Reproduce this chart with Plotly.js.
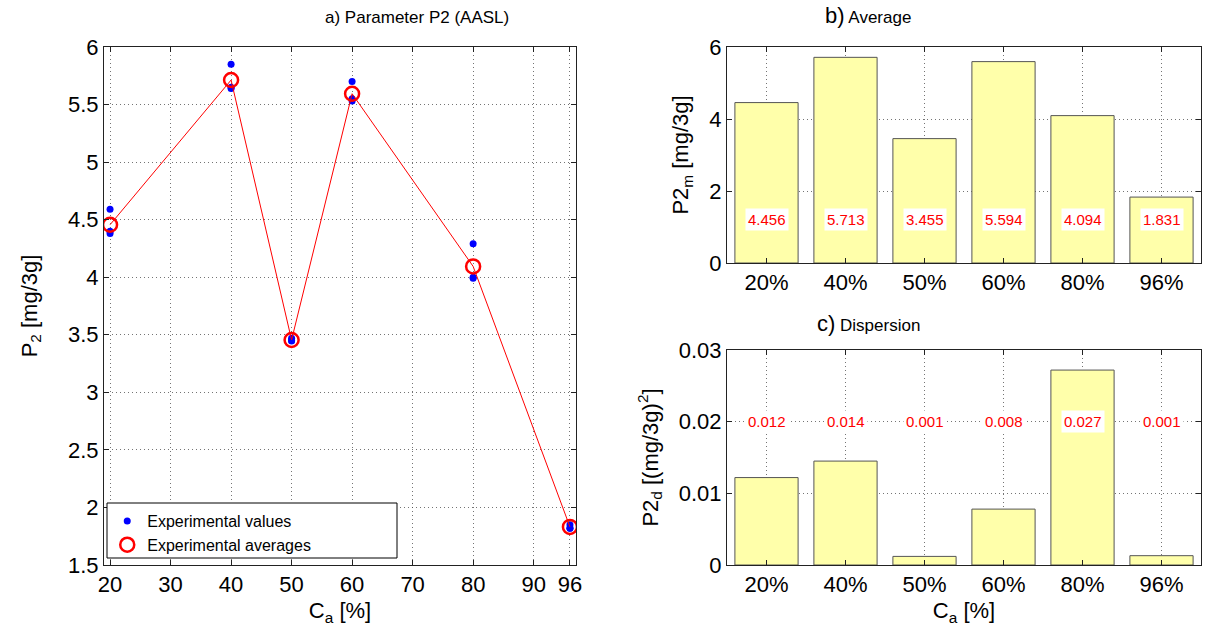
<!DOCTYPE html>
<html>
<head>
<meta charset="utf-8">
<script src="https://cdn.plot.ly/plotly-3.0.1.min.js"></script>
<style>html,body{margin:0;padding:0;background:#fff;}#chart{width:1205px;height:636px;}</style>
</head>
<body>
<div id="chart"></div>
<script>
// ---- data ----
const concentrations = [20, 40, 50, 60, 80, 96];
const expX = [20, 20, 20, 40, 40, 40, 50, 50, 50, 60, 60, 60, 80, 80, 80, 96, 96, 96];
const expY = [4.59, 4.40, 4.38, 5.85, 5.65, 5.64, 3.47, 3.45, 3.445, 5.70, 5.55, 5.53, 4.29, 4.00, 3.99, 1.85, 1.82, 1.82];
const averages = [4.456, 5.713, 3.455, 5.594, 4.094, 1.831];
const categories = ['20%', '40%', '50%', '60%', '80%', '96%'];
const dispersion = [0.0122, 0.0145, 0.0012, 0.0078, 0.0272, 0.0013];
const avgLabels = ['4.456', '5.713', '3.455', '5.594', '4.094', '1.831'];
const dispLabels = ['0.012', '0.014', '0.001', '0.008', '0.027', '0.001'];
const xTicks = [20, 30, 40, 50, 60, 70, 80, 90, 96];

const FONT = 'Arial, "Liberation Sans", sans-serif';
const gridCol = 'rgba(70,70,70,0.75)';

function axisStyle(extra) {
  return Object.assign({
    showline: true, linecolor: '#222', linewidth: 1, mirror: 'allticks',
    ticks: 'inside', ticklen: 5, tickcolor: '#222',
    showgrid: true, gridcolor: gridCol, griddash: '1px,3px', gridwidth: 1,
    zeroline: false,
    tickfont: {family: FONT, size: 22, color: '#000'}
  }, extra);
}

const traces = [
  {x: expX, y: expY, type: 'scatter', mode: 'markers', name: 'Experimental values',
   marker: {color: '#0000ff', size: 7}, xaxis: 'x', yaxis: 'y'},
  {x: concentrations, y: averages, type: 'scatter', mode: 'lines', showlegend: false,
   line: {color: '#ff0000', width: 1}, xaxis: 'x', yaxis: 'y', hoverinfo: 'skip'},
  {x: concentrations, y: averages, type: 'scatter', mode: 'markers', name: 'Experimental averages',
   marker: {color: '#ff0000', size: 14, symbol: 'circle-open', line: {color: '#ff0000', width: 2.5}},
   xaxis: 'x', yaxis: 'y'},
  {x: categories, y: averages, type: 'bar', showlegend: false, width: 0.8,
   marker: {color: '#ffffaa', line: {color: '#555', width: 1}}, xaxis: 'x2', yaxis: 'y2'},
  {x: categories, y: dispersion, type: 'bar', showlegend: false, width: 0.8,
   marker: {color: '#ffffaa', line: {color: '#555', width: 1}}, xaxis: 'x3', yaxis: 'y3'}
];

const annotations = [];
categories.forEach((c, i) => {
  annotations.push({x: c, y: 1.2, xref: 'x2', yref: 'y2', text: avgLabels[i], showarrow: false,
    bgcolor: '#ffffff', font: {family: FONT, size: 15, color: '#ff0000'}, borderpad: 2});
  annotations.push({x: c, y: 0.02, xref: 'x3', yref: 'y3', text: dispLabels[i], showarrow: false,
    bgcolor: '#ffffff', font: {family: FONT, size: 15, color: '#ff0000'}, borderpad: 2});
});
// titles
annotations.push({xref: 'paper', yref: 'paper', x: 323/1205, y: 1 - 18/636, yanchor: 'middle',
  text: 'a) Parameter P2 (AASL)', showarrow: false, font: {family: FONT, size: 17, color: '#000'}});
annotations.push({xref: 'paper', yref: 'paper', x: 913/1205, y: 1 - 16/636, yanchor: 'middle',
  text: '<span style="font-size:22px">b)</span> Average',
  showarrow: false, font: {family: FONT, size: 17, color: '#000'}});
annotations.push({xref: 'paper', yref: 'paper', x: 922/1205, y: 1 - 323/636, yanchor: 'middle',
  text: '<span style="font-size:22px">c)</span> Dispersion',
  showarrow: false, font: {family: FONT, size: 17, color: '#000'}});

const layout = {
  width: 1205, height: 636,
  margin: {l: 0, r: 0, t: 0, b: 0},
  paper_bgcolor: '#ffffff', plot_bgcolor: '#ffffff',
  font: {family: FONT, color: '#000'},
  showlegend: true,
  legend: {x: 0.089, y: 1 - 504/636, xanchor: 'left', yanchor: 'top',
    bgcolor: 'rgba(255,255,255,0)', borderwidth: 0,
    font: {family: FONT, size: 16, color: '#000'}, tracegroupgap: 0},
  shapes: [{type: 'rect', xref: 'paper', yref: 'paper', x0: 107/1205, x1: 397/1205,
    y0: 1 - 558/636, y1: 1 - 503/636, line: {color: '#000', width: 1}, fillcolor: '#ffffff', layer: 'above'}],
  xaxis: axisStyle({domain: [104/1205, 576/1205], range: [19, 97], tickvals: xTicks,
    anchor: 'y', title: {text: 'C<sub>a</sub> [%]', font: {family: FONT, size: 22}, standoff: 6}}),
  yaxis: axisStyle({domain: [1 - 565/636, 1 - 47/636], range: [1.5, 6], dtick: 0.5,
    anchor: 'x', title: {text: 'P<sub>2</sub> [mg/3g]', font: {family: FONT, size: 22}, standoff: 24}}),
  xaxis2: axisStyle({domain: [727/1205, 1201/1205], range: [-0.5, 5.5], anchor: 'y2', type: 'category'}),
  yaxis2: axisStyle({domain: [1 - 263/636, 1 - 47/636], range: [0, 6], dtick: 2,
    anchor: 'x2', title: {text: 'P2<sub>m</sub> [mg/3g]', font: {family: FONT, size: 22}, standoff: 14}}),
  xaxis3: axisStyle({domain: [727/1205, 1201/1205], range: [-0.5, 5.5], anchor: 'y3', type: 'category',
    title: {text: 'C<sub>a</sub> [%]', font: {family: FONT, size: 22}, standoff: 6}}),
  yaxis3: axisStyle({domain: [1 - 565/636, 1 - 350/636], range: [0, 0.03], dtick: 0.01,
    anchor: 'x3', title: {text: 'P2<sub>d</sub> [(mg/3g)<sup>2</sup>]', font: {family: FONT, size: 22}, standoff: 14}}),
  annotations: annotations
};

Plotly.newPlot('chart', traces, layout, {displayModeBar: false, staticPlot: true});
</script>
</body>
</html>
